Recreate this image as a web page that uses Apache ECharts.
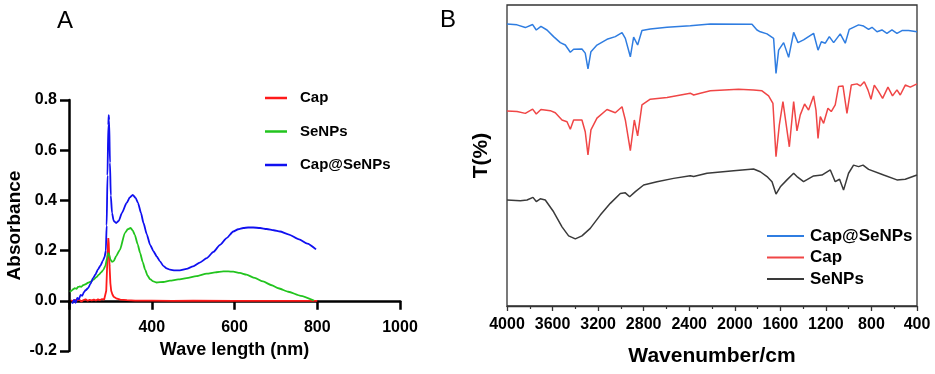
<!DOCTYPE html>
<html>
<head>
<meta charset="utf-8">
<script src="https://cdn.jsdelivr.net/npm/echarts@6/dist/echarts.min.js"></script>
<style>
  html, body { margin: 0; padding: 0; background: #fff; }
  #chart { width: 935px; height: 374px; }
</style>
</head>
<body>
<div id="chart"></div>
<script>
// Panel A: UV-Vis absorbance, [wavelength nm, absorbance]
const uvCap = [
  [205, 0.002], [210, -0.002], [215, 0.004], [220, 0.001], [225, 0.005], [230, -0.003],
  [235, 0.003], [240, 0.006], [245, 0], [250, 0.004], [255, 0.002], [260, 0.005],
  [265, 0.001], [270, 0.006], [275, 0.003], [280, 0.007], [285, 0.005], [288, 0.008],
  [290, 0.04], [292, 0.13], [294, 0.22], [295, 0.25], [296, 0.23], [298, 0.14],
  [300, 0.07], [302, 0.04], [305, 0.025], [308, 0.016], [314, 0.01], [324, 0.005],
  [340, 0.003], [360, 0.001], [400, 0.001], [450, 0], [500, 0.001], [600, 0], [700, 0], [800, 0]
];
const uvSeNPs = [
  [202, 0.036], [206, 0.04], [210, 0.046], [214, 0.05], [218, 0.048], [222, 0.055],
  [226, 0.057], [230, 0.056], [234, 0.062], [240, 0.066], [246, 0.072], [252, 0.076],
  [259, 0.084], [266, 0.094], [272, 0.104], [278, 0.114], [283, 0.123], [288, 0.14],
  [292, 0.17], [295, 0.19], [297, 0.185], [300, 0.165], [304, 0.155], [308, 0.158],
  [314, 0.178], [323, 0.203], [335, 0.27], [342, 0.285], [349, 0.29], [354, 0.28],
  [359, 0.263], [366, 0.225], [372, 0.19], [378, 0.155], [384, 0.124], [390, 0.1],
  [396, 0.086], [404, 0.077], [412, 0.073], [428, 0.075], [444, 0.08], [464, 0.085],
  [484, 0.09], [508, 0.098], [533, 0.108], [553, 0.113], [573, 0.117], [585, 0.117],
  [597, 0.116], [613, 0.111], [629, 0.104], [649, 0.091], [669, 0.077], [690, 0.062],
  [706, 0.05], [730, 0.036], [760, 0.02], [792, 0.001]
];
const uvCapSeNPs = [
  [208, -0.012], [212, 0.004], [216, -0.008], [220, 0.012], [224, 0.006], [228, 0.024],
  [232, 0.02], [236, 0.034], [240, 0.042], [246, 0.05], [252, 0.068], [258, 0.09],
  [264, 0.105], [270, 0.125], [276, 0.14], [282, 0.16], [286, 0.175], [289, 0.2],
  [291, 0.3], [293, 0.5], [295, 0.7], [296, 0.74], [297, 0.72], [299, 0.55],
  [301, 0.42], [304, 0.35], [308, 0.318], [314, 0.31], [320, 0.318], [328, 0.35],
  [339, 0.389], [347, 0.412], [354, 0.422], [361, 0.41], [367, 0.389], [374, 0.35],
  [380, 0.31], [388, 0.265], [396, 0.223], [404, 0.198], [412, 0.177], [420, 0.157],
  [428, 0.139], [436, 0.129], [444, 0.124], [456, 0.121], [468, 0.121], [484, 0.127],
  [500, 0.137], [516, 0.152], [533, 0.17], [549, 0.195], [565, 0.223], [581, 0.25],
  [597, 0.276], [609, 0.285], [621, 0.29], [633, 0.292], [645, 0.292], [662, 0.29],
  [678, 0.286], [695, 0.281], [710, 0.276], [730, 0.265], [756, 0.245], [776, 0.228], [797, 0.205]
];

// Panel B: FTIR transmittance (arbitrary offset units), [wavenumber, T]
const irCapSeNPs = [
  [4000, 93.7], [3912, 93.4], [3839, 92.5], [3775, 93.5], [3743, 91.7], [3702, 92.9],
  [3649, 91.7], [3591, 89.5], [3532, 87.5], [3488, 86.7], [3444, 84.3], [3415, 85.3],
  [3342, 85.4], [3313, 84], [3289, 78.8], [3263, 84.5], [3210, 86.7], [3122, 88.6],
  [3049, 89.5], [2990, 90.8], [2961, 88.9], [2917, 82.8], [2888, 89.3], [2853, 86.7],
  [2815, 91.5], [2742, 92], [2595, 92.6], [2391, 93.1], [2215, 93.7], [1849, 93.6],
  [1805, 91.7], [1776, 91.1], [1717, 90.4], [1659, 88.9], [1638, 77.3], [1615, 85],
  [1571, 87.5], [1527, 82.6], [1483, 90.9], [1445, 87.5], [1396, 88.4], [1308, 90.6],
  [1269, 85], [1240, 87.8], [1205, 87.3], [1170, 89.5], [1132, 87.5], [1074, 90.4],
  [1030, 87.3], [995, 91.9], [913, 93.4], [869, 93], [825, 91.9], [795, 92.6],
  [751, 91.1], [708, 91.7], [664, 90.6], [620, 91.7], [576, 90.6], [532, 91.5],
  [474, 91.5], [400, 91.1]
];
const irCap = [
  [4000, 64.8], [3912, 64.6], [3839, 64], [3775, 65.4], [3743, 63.8], [3702, 65.3],
  [3620, 64.9], [3576, 64.2], [3517, 61.8], [3473, 61.2], [3444, 58.7], [3415, 61.8],
  [3342, 61.8], [3313, 57.9], [3289, 50.2], [3263, 58.5], [3210, 62.4], [3122, 65.3],
  [3049, 64.2], [2990, 66.2], [2961, 61.8], [2917, 51.6], [2882, 61.8], [2853, 56.5],
  [2815, 66.8], [2742, 68.7], [2595, 69.3], [2391, 70.7], [2361, 70.1], [2303, 70.7],
  [2215, 71.5], [1967, 72], [1835, 71.8], [1761, 71.5], [1703, 69.8], [1665, 67.3],
  [1638, 49.6], [1609, 60.1], [1577, 67.9], [1521, 52.9], [1483, 67.9], [1454, 58.2],
  [1425, 63.5], [1387, 67.1], [1352, 65.1], [1308, 69.8], [1287, 65.1], [1269, 55.7],
  [1249, 62.9], [1220, 60.7], [1182, 65.7], [1153, 64.6], [1118, 66.8], [1089, 72.9],
  [1050, 73.1], [1015, 64], [977, 73.4], [927, 73.8], [898, 73.1], [863, 74.5],
  [831, 71.8], [804, 68.7], [775, 73.4], [737, 71.2], [702, 69], [655, 72.7],
  [615, 69.8], [576, 71.8], [547, 70.1], [503, 73.4], [459, 72.7], [400, 73.8]
];
const irSeNPs = [
  [4000, 35.2], [3883, 35], [3824, 35.2], [3772, 36.1], [3743, 34.7], [3708, 35.6],
  [3664, 35.2], [3591, 31.3], [3517, 26.3], [3459, 23.3], [3400, 22.3], [3342, 23.3],
  [3269, 25.8], [3181, 30.2], [3093, 34.1], [3005, 37.4], [2961, 37.6], [2923, 36.3],
  [2873, 38], [2800, 40.2], [2683, 41.3], [2537, 42.4], [2391, 43.3], [2361, 43],
  [2244, 44.1], [2010, 44.9], [1835, 45.5], [1776, 44.6], [1717, 43], [1673, 41.3],
  [1638, 37.2], [1600, 39.6], [1542, 41.9], [1483, 44.1], [1448, 42.8], [1396, 41.3],
  [1308, 43.2], [1235, 43.5], [1161, 45.2], [1118, 41.3], [1080, 42.1], [1045, 38.5],
  [1001, 44.1], [957, 46.8], [913, 46.3], [874, 46.8], [825, 45.4], [693, 43.5],
  [576, 41.9], [503, 42.1], [400, 43.5]
];

const chart = echarts.init(document.getElementById('chart'));
const font = 'Liberation Sans, Arial, sans-serif';
const boldLabel = (size) => ({ color: '#000', fontFamily: font, fontWeight: 'bold', fontSize: size });

// panel A grid: 251px tall for -0.2..0.8, x axis drawn at y = 0
const gridAHeight = 251;
const zeroOffset = -gridAHeight * 0.2;

const option = {
  animation: false,
  backgroundColor: '#fff',
  graphic: [
    { type: 'text', left: 57, top: 9, style: { text: 'A', font: '24px ' + font, fill: '#000' } },
    { type: 'text', left: 440, top: 8, style: { text: 'B', font: '24px ' + font, fill: '#000' } }
  ],
  grid: [
    { left: 69, right: 535, top: 100, height: gridAHeight, outerBoundsMode: 'none', containLabel: false },
    { left: 507, right: 18, top: 5, bottom: 68, outerBoundsMode: 'none', containLabel: false,
      show: true, borderColor: '#333', borderWidth: 1.3 }
  ],
  legend: [
    {
      data: ['Cap', 'SeNPs', 'Cap@SeNPs'],
      orient: 'vertical', left: 265, top: 89, padding: 0,
      icon: 'rect', itemWidth: 22, itemHeight: 2.5, itemGap: 15.5,
      selectedMode: false,
      textStyle: Object.assign(boldLabel(15), { lineHeight: 18, padding: [0, 0, 0, 8] })
    },
    {
      data: ['IR Cap@SeNPs', 'IR Cap', 'IR SeNPs'],
      orient: 'vertical', left: 767, top: 226, padding: 0,
      icon: 'rect', itemWidth: 37, itemHeight: 2, itemGap: 1.5,
      selectedMode: false,
      formatter: (name) => name.replace('IR ', ''),
      textStyle: Object.assign(boldLabel(17), { lineHeight: 20, padding: [0, 0, 0, 1] })
    }
  ],
  xAxis: [
    {
      gridIndex: 0, type: 'value', min: 200, max: 1000, interval: 200,
      position: 'bottom', offset: zeroOffset,
      axisLine: { onZero: false, lineStyle: { color: '#000', width: 2.5 } },
      axisTick: { length: 9, lineStyle: { color: '#000', width: 2.5 } },
      axisLabel: Object.assign(boldLabel(16), { margin: 19, formatter: (v) => (v === 200 ? '' : String(v)) }),
      splitLine: { show: false },
      name: 'Wave length (nm)', nameLocation: 'middle', nameGap: 39,
      nameTextStyle: boldLabel(18)
    },
    {
      gridIndex: 1, type: 'value', min: 400, max: 4000, interval: 400, inverse: true,
      axisLine: { onZero: false, lineStyle: { color: '#333', width: 1.3 } },
      axisTick: { length: 5, lineStyle: { color: '#333', width: 1.3 } },
      minorTick: { show: true, splitNumber: 2, length: 3, lineStyle: { color: '#333', width: 1.2 } },
      axisLabel: Object.assign(boldLabel(16), { margin: 11, formatter: (v) => String(v) }),
      splitLine: { show: false },
      name: 'Wavenumber/cm', nameLocation: 'middle', nameGap: 40,
      nameTextStyle: boldLabel(21)
    }
  ],
  yAxis: [
    {
      gridIndex: 0, type: 'value', min: -0.2, max: 0.8, interval: 0.2,
      axisLine: { show: true, onZero: false, lineStyle: { color: '#000', width: 2.5 } },
      axisTick: { show: true, length: 9, lineStyle: { color: '#000', width: 2.5 } },
      axisLabel: Object.assign(boldLabel(16), { margin: 12, formatter: (v) => v.toFixed(1) }),
      splitLine: { show: false },
      name: 'Absorbance', nameLocation: 'middle', nameGap: 45,
      nameTextStyle: boldLabel(19)
    },
    {
      gridIndex: 1, type: 'value', min: 0, max: 100,
      axisLine: { show: false }, axisTick: { show: false }, axisLabel: { show: false },
      splitLine: { show: false },
      name: 'T(%)', nameLocation: 'middle', nameGap: 15,
      nameTextStyle: boldLabel(21)
    }
  ],
  series: [
    { name: 'Cap', type: 'line', xAxisIndex: 0, yAxisIndex: 0, data: uvCap, symbol: 'none',
      color: '#ff1a1a', lineStyle: { width: 1.8 } },
    { name: 'SeNPs', type: 'line', xAxisIndex: 0, yAxisIndex: 0, data: uvSeNPs, symbol: 'none',
      smooth: 0.2, smoothMonotone: 'x', color: '#22c41e', lineStyle: { width: 1.8 } },
    { name: 'Cap@SeNPs', type: 'line', xAxisIndex: 0, yAxisIndex: 0, data: uvCapSeNPs, symbol: 'none',
      smooth: 0.2, smoothMonotone: 'x', color: '#1010f0', lineStyle: { width: 1.8 } },
    { name: 'IR Cap@SeNPs', type: 'line', xAxisIndex: 1, yAxisIndex: 1, data: irCapSeNPs, symbol: 'none',
      color: '#2f7de1', lineStyle: { width: 1.5 } },
    { name: 'IR Cap', type: 'line', xAxisIndex: 1, yAxisIndex: 1, data: irCap, symbol: 'none',
      color: '#f04646', lineStyle: { width: 1.5 } },
    { name: 'IR SeNPs', type: 'line', xAxisIndex: 1, yAxisIndex: 1, data: irSeNPs, symbol: 'none',
      color: '#3a3a3a', lineStyle: { width: 1.5 } }
  ]
};

chart.setOption(option);
</script>
</body>
</html>
